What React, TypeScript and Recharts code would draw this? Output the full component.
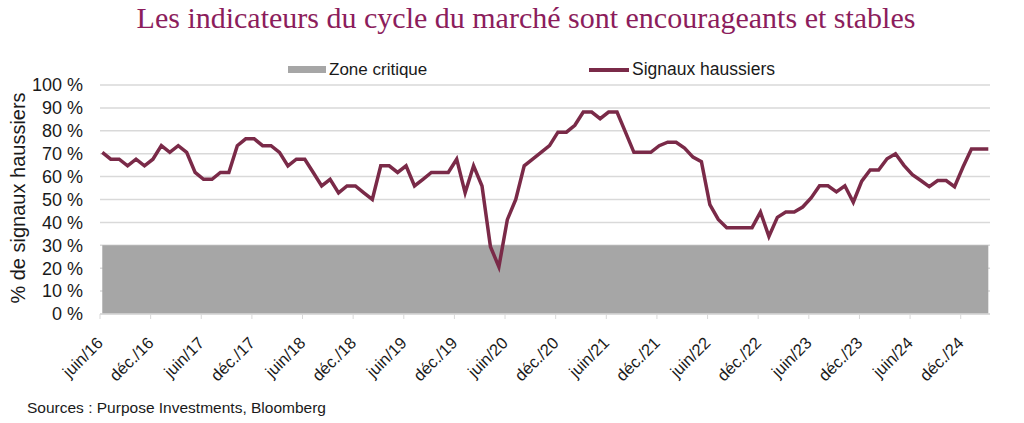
import React from 'react';
import { ComposedChart, Line, Area, XAxis, YAxis, CartesianGrid } from 'recharts';

const chartTitle = 'Les indicateurs du cycle du marché sont encourageants et stables';
const yAxisTitle = '% de signaux haussiers';
const sourceText = 'Sources : Purpose Investments, Bloomberg';
const zoneName = 'Zone critique';
const signalName = 'Signaux haussiers';

// Monthly readings, starting June 2016
const signalValues = [
  70.6, 67.6, 67.6, 64.7, 67.6, 64.7, 67.6, 73.5, 70.6, 73.5,
  70.6, 61.8, 58.8, 58.8, 61.8, 61.8, 73.5, 76.5, 76.5, 73.5,
  73.5, 70.6, 64.7, 67.6, 67.6, 61.8, 55.9, 58.8, 52.9, 55.9,
  55.9, 52.9, 50.0, 64.7, 64.7, 61.8, 64.7, 55.9, 58.8, 61.8,
  61.8, 61.8, 67.6, 52.9, 64.7, 55.9, 29.4, 20.6, 41.2, 50.0,
  64.7, 67.6, 70.6, 73.5, 79.4, 79.4, 82.4, 88.2, 88.2, 85.3,
  88.2, 88.2, 79.4, 70.6, 70.6, 70.6, 73.5, 75.0, 75.0, 72.5,
  68.5, 66.5, 47.8, 41.3, 37.7, 37.7, 37.7, 37.7, 44.5, 33.9,
  42.2, 44.5, 44.5, 46.7, 50.7, 56.0, 56.0, 53.3, 56.0, 48.8,
  58.0, 62.9, 62.9, 67.8, 70.0, 64.9, 60.8, 58.3, 55.6, 58.3,
  58.3, 55.6, 64.2, 72.0, 72.0, 72.0,
];
const zoneLevel = 30;

const tickLabels = [
  'juin/16', 'déc./16', 'juin/17', 'déc./17', 'juin/18', 'déc./18',
  'juin/19', 'déc./19', 'juin/20', 'déc./20', 'juin/21', 'déc./21',
  'juin/22', 'déc./22', 'juin/23', 'déc./23', 'juin/24', 'déc./24',
];
const yTicks = [0, 10, 20, 30, 40, 50, 60, 70, 80, 90, 100];

const TICK_OFFSET = -0.27;
const tickPositions = tickLabels.map((_, k) => k * 6 + TICK_OFFSET);

const data = signalValues.map((v, i) => ({ idx: i, signal: v, zone: zoneLevel }));

const LINE_COLOR = '#7A2A48';
const ZONE_COLOR = '#A6A6A6';
const GRID_COLOR = '#D9D9D9';
const TEXT_COLOR = '#1A1A1A';
const FONT = '"Liberation Sans", Arial, sans-serif';

const XTick = (props: any) => {
  const { x, y, payload } = props;
  const i = tickPositions.findIndex((p) => Math.abs(p - payload.value) < 0.01);
  const label = i >= 0 ? tickLabels[i] : '';
  return (
    <g transform={`translate(${x + 4},${y + 23})`}>
      <text x={0} y={0} textAnchor="end" transform="rotate(-45)" fontSize={16.5} fill={TEXT_COLOR} fontFamily={FONT}>
        {label}
      </text>
    </g>
  );
};

export default function App() {
  return (
    <div style={{ position: 'absolute', left: 0, top: 0, width: 1024, height: 423, background: '#fff', fontFamily: FONT, color: TEXT_COLOR }}>
      <div style={{ position: 'absolute', left: 13, top: 1, width: 1026, textAlign: 'center', fontFamily: '"Liberation Serif", "Times New Roman", serif', fontSize: 30, lineHeight: '34px', color: '#8C1D5C', whiteSpace: 'nowrap' }}>
        {chartTitle}
      </div>
      {/* legend */}
      <div style={{ position: 'absolute', left: 288, top: 66, width: 38, height: 7, background: ZONE_COLOR }} />
      <div style={{ position: 'absolute', left: 329, top: 59, fontSize: 17, lineHeight: '21px', whiteSpace: 'nowrap' }}>{zoneName}</div>
      <div style={{ position: 'absolute', left: 589, top: 68, width: 40, height: 4, background: LINE_COLOR }} />
      <div style={{ position: 'absolute', left: 632, top: 59, fontSize: 17.5, lineHeight: '21px', whiteSpace: 'nowrap' }}>{signalName}</div>
      {/* y axis title */}
      <div style={{ position: 'absolute', left: 18, top: 198, transform: 'translate(-50%, -50%) rotate(-90deg)', fontSize: 20, whiteSpace: 'nowrap' }}>
        {yAxisTitle}
      </div>
      <div style={{ position: 'absolute', left: 27, top: 399, fontSize: 15.5, whiteSpace: 'nowrap' }}>{sourceText}</div>
      <div style={{ position: 'absolute', left: 0, top: 0 }}>
        <ComposedChart width={1024} height={423} data={data} margin={{ top: 85, right: 34, bottom: 0, left: 0 }}>
          <CartesianGrid horizontal={true} vertical={false} stroke={GRID_COLOR} strokeWidth={1.5} />
          <XAxis
            dataKey="idx"
            type="number"
            domain={[TICK_OFFSET, 105.2]}
            ticks={tickPositions}
            interval={0}
            height={109}
            tick={<XTick />}
            tickLine={{ stroke: GRID_COLOR }}
            tickSize={5}
            axisLine={{ stroke: GRID_COLOR, strokeWidth: 1.5 }}
            allowDecimals={true}
          />
          <YAxis
            type="number"
            domain={[0, 100]}
            ticks={yTicks}
            interval={0}
            width={100}
            axisLine={false}
            tickLine={false}
            tickMargin={11}
            tickFormatter={(v: number) => `${v} %`}
            tick={{ fontSize: 18, fill: TEXT_COLOR, fontFamily: FONT }}
          />
          <Area
            type="linear"
            dataKey="zone"
            name={zoneName}
            fill={ZONE_COLOR}
            fillOpacity={1}
            stroke="none"
            isAnimationActive={false}
          />
          <Line
            type="linear"
            dataKey="signal"
            name={signalName}
            stroke={LINE_COLOR}
            strokeWidth={3.5}
            dot={false}
            isAnimationActive={false}
          />
        </ComposedChart>
      </div>
    </div>
  );
}
